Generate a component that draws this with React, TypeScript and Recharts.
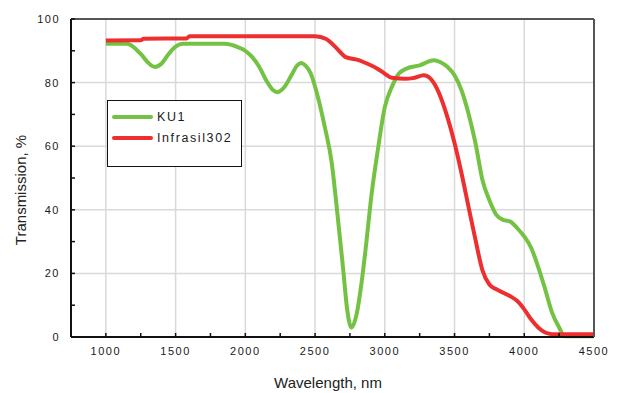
import { CartesianGrid, Line, LineChart, XAxis, YAxis } from "recharts"

// KU1 fused silica
const ku1Wavelength = [
  1000, 1150, 1250, 1300, 1350, 1400, 1450, 1500, 1550, 1850, 1950, 2000, 2050, 2100, 2150, 2200, 2230,
  2280, 2330, 2370, 2400, 2430, 2470, 2520, 2570, 2620, 2650, 2700, 2730, 2760, 2800, 2830, 2870, 2900,
  2950, 3000, 3050, 3100, 3150, 3250, 3350, 3400, 3450, 3500, 3550, 3600, 3650, 3700, 3750, 3800, 3850,
  3900, 3950, 4000, 4050, 4100, 4150, 4200, 4250, 4290, 4500,
]
const ku1Transmission = [
  92.2, 92.2, 89, 86.4, 84.9, 86, 89, 91.3, 92.2, 92.2, 91.1, 90, 88, 84.9, 80.7, 77.6, 77, 78.6, 82.3,
  85.3, 86.2, 85.4, 82.8, 75.5, 66, 54.6, 43, 22, 8.7, 3, 7.6, 16, 30.6, 43, 58.8, 72.3, 78.6, 82.8,
  84.3, 85.4, 87, 86.4, 84.9, 82.3, 77.6, 70.3, 61, 49.4, 43, 38.4, 36.8, 36.3, 34.2, 31.6, 28, 22, 15,
  7.6, 3, 0.2, 0.2,
]

// Infrasil 302
const infrasilWavelength = [
  1000, 1250, 1270, 1580, 1600, 2500, 2580, 2650, 2720, 2800, 2850, 2950, 3000, 3050, 3150, 3200, 3280,
  3350, 3400, 3450, 3500, 3550, 3600, 3650, 3700, 3750, 3800, 3850, 3900, 3950, 4000, 4050, 4100, 4150,
  4200, 4500,
]
const infrasilTransmission = [
  93.2, 93.3, 93.8, 93.9, 94.6, 94.6, 93.7, 91, 88, 87.2, 86.4, 84.3, 82.8, 81.5, 81.2, 81.4, 82.3, 80,
  75.5, 69, 61, 51.5, 41, 30.6, 21, 16.5, 15, 13.9, 12.8, 11.3, 8.7, 5.5, 3, 1.4, 0.9, 0.9,
]

const seriesNames = ["KU1", "Infrasil302"]
const seriesColors = ["#74c244", "#ee2f2f"]

const xTicks = [1000, 1250, 1500, 1750, 2000, 2250, 2500, 2750, 3000, 3250, 3500, 3750, 4000, 4250, 4500]
const xGrid = [1000, 1500, 2000, 2500, 3000, 3500, 4000]
const yTicks = [0, 10, 20, 30, 40, 50, 60, 70, 80, 90, 100]
const yGrid = [20, 40, 60, 80]

const ku1Data = ku1Wavelength.map((w, i) => ({ w, t: ku1Transmission[i] }))
const infrasilData = infrasilWavelength.map((w, i) => ({ w, t: infrasilTransmission[i] }))

const font = "'Liberation Sans', Arial, sans-serif"
const tickStyle = { fontSize: 11, fill: "#1a1a1a", fontFamily: font, letterSpacing: 1.5 }

export default function App() {
  return (
    <div style={{ position: "absolute", left: 0, top: 0, width: 620, height: 393, background: "#fff" }}>
      <LineChart width={620} height={393} margin={{ top: 18, right: 25, left: 0, bottom: 0 }}>
        <CartesianGrid stroke="#d9d9d9" strokeWidth={1.5} verticalValues={xGrid} horizontalValues={yGrid} />
        <XAxis
          type="number"
          dataKey="w"
          domain={[750, 4500]}
          ticks={xTicks}
          allowDataOverflow
          height={56}
          tickSize={-4}
          tickMargin={14}
          tickFormatter={(v) => (v % 500 === 0 ? String(v) : "")}
          tick={tickStyle}
          tickLine={{ stroke: "#111", strokeWidth: 1.5 }}
          axisLine={{ stroke: "#111", strokeWidth: 2 }}
          label={{
            content: () => (
              <text x={328} y={388} textAnchor="middle" fontSize={15} fill="#222" fontFamily={font}>
                Wavelength, nm
              </text>
            ),
          }}
        />
        <XAxis
          xAxisId="top"
          orientation="top"
          type="number"
          domain={[750, 4500]}
          ticks={xTicks}
          allowDataOverflow
          height={1}
          tickSize={-4}
          tickFormatter={() => ""}
          tickLine={{ stroke: "#444", strokeWidth: 1.5 }}
          axisLine={{ stroke: "#555", strokeWidth: 2 }}
        />
        <YAxis
          type="number"
          domain={[0, 100]}
          ticks={yTicks}
          width={71}
          tickSize={-4}
          tickMargin={15}
          tickFormatter={(v) => (v % 20 === 0 ? String(v) : "")}
          tick={tickStyle}
          tickLine={{ stroke: "#111", strokeWidth: 1.5 }}
          axisLine={{ stroke: "#111", strokeWidth: 2 }}
          label={{
            content: () => (
              <text
                x={20}
                y={190}
                transform="rotate(-90 20 190)"
                textAnchor="middle"
                dominantBaseline="central"
                fontSize={15}
                fill="#222"
                fontFamily={font}
              >
                Transmission, %
              </text>
            ),
          }}
        />
        <YAxis
          yAxisId="right"
          orientation="right"
          type="number"
          domain={[0, 100]}
          ticks={yTicks}
          width={1}
          tickSize={-4}
          tickFormatter={() => ""}
          tickLine={{ stroke: "#444", strokeWidth: 1.5 }}
          axisLine={{ stroke: "#555", strokeWidth: 2 }}
        />
        <Line
          data={ku1Data}
          dataKey="t"
          type="monotone"
          stroke={seriesColors[0]}
          strokeWidth={4}
          dot={false}
          isAnimationActive={false}
        />
        <Line
          data={infrasilData}
          dataKey="t"
          type="monotone"
          stroke={seriesColors[1]}
          strokeWidth={4}
          dot={false}
          isAnimationActive={false}
        />
      </LineChart>
      {/* legend box */}
      <div
        style={{
          position: "absolute",
          left: 107,
          top: 100,
          width: 133,
          height: 65,
          border: "1.5px solid #111",
          background: "#fff",
          boxSizing: "content-box",
        }}
      >
        {seriesNames.map((name, i) => (
          <div
            key={name}
            style={{ position: "absolute", left: 4, top: 10 + i * 21, height: 12, display: "flex", alignItems: "center" }}
          >
            <div style={{ width: 41, height: 4, background: seriesColors[i], borderRadius: 2 }} />
            <span
              style={{
                marginLeft: 4,
                fontFamily: font,
                fontSize: 12.5,
                color: "#1a1a1a",
                letterSpacing: 1.6,
                lineHeight: "12px",
              }}
            >
              {name}
            </span>
          </div>
        ))}
      </div>
    </div>
  )
}
